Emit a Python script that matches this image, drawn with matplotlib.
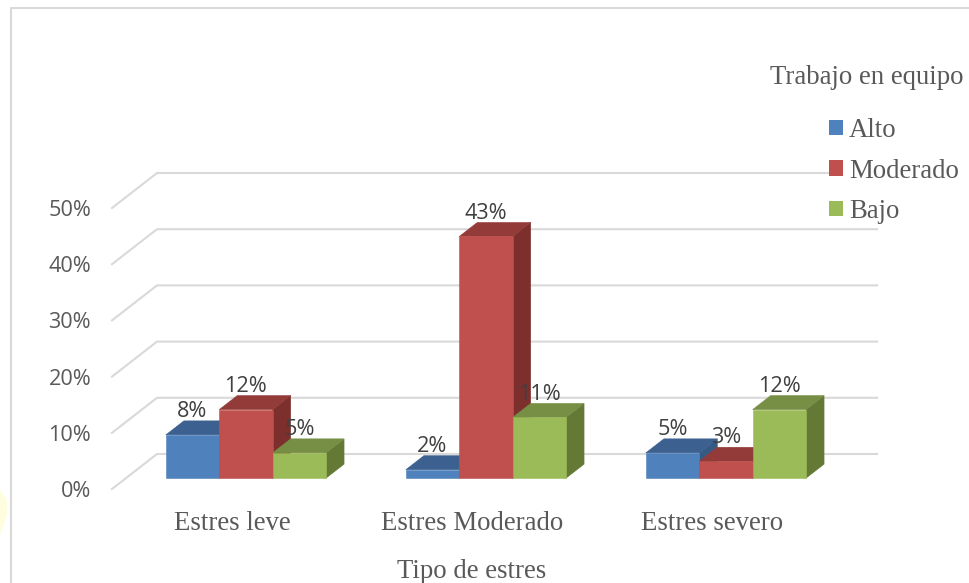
import numpy as np
import matplotlib
matplotlib.use('Agg')
import matplotlib.pyplot as plt
from matplotlib.lines import Line2D
from matplotlib.patches import Patch, Polygon

# datos
categorias = ['Estres leve', 'Estres Moderado', 'Estres severo']
series = ['Alto', 'Moderado', 'Bajo']
alto = [7.7, 1.5, 4.5]
moderado = [12.2, 43.0, 3.0]
bajo = [4.5, 10.8, 12.2]
etiquetas_alto = ['8%', '2%', '5%']
etiquetas_moderado = ['12%', '43%', '3%']
etiquetas_bajo = ['5%', '11%', '12%']
ticks_y = [0, 10, 20, 30, 40, 50]

W, H = 969, 583
color_frente = ['#4F81BD', '#C0504D', '#9BBB59']
color_arriba = ['#3C6190', '#923B39', '#778F44']
color_lado = ['#375A85', '#7C2F2D', '#647936']
gris = '#D9D9D9'
serif = 19.3
sans = 15.6

# proyeccion falsa 3D: desplazamiento del fondo en unidades de datos
prof_x = 45 / 240
prof_y = 35 / 5.62
d_frente = 0.31
d_atras = 0.71
ancho = 0.2225


def proy(x, y, d):
    return (x + d * prof_x, y + d * prof_y)


fig = plt.figure(figsize=(W / 100, H / 100), dpi=100)
ax = fig.add_axes([112 / W, 1 - 489 / H, 720 / W, 281 / H])
ax.set_xlim(0, 3)
ax.set_ylim(0, 50)
ax.patch.set_alpha(0)
for s in ax.spines.values():
    s.set_visible(False)

# marco del grafico y mancha amarilla del borde
fig.add_artist(Line2D([11 / W, 11 / W, 1], [0, 1 - 8 / H, 1 - 8 / H], color=gris, lw=1.5))
fig.add_artist(Polygon([[0, 1 - 535 / H], [7 / W, 1 - 515 / H], [7 / W, 1 - 500 / H], [0, 1 - 490 / H]],
                       closed=True, color='#FFFDE0', lw=0, transform=fig.transFigure))

# lineas de la pared
for v in ticks_y:
    ax.plot(*zip(proy(0, v, 0), proy(0, v, 1), proy(3, v, 1)), color=gris, lw=1.5,
            clip_on=False, zorder=1, solid_joinstyle='miter')

# barras
valores = [alto, moderado, bajo]
etiquetas = [etiquetas_alto, etiquetas_moderado, etiquetas_bajo]
for c in range(len(categorias)):
    x0 = c + 0.5 - 1.5 * ancho
    for i in range(3):
        v = valores[i][c]
        xa = x0 + i * ancho
        xb = xa + ancho
        frente = [proy(xa, 0, d_frente), proy(xb, 0, d_frente), proy(xb, v, d_frente), proy(xa, v, d_frente)]
        arriba = [proy(xa, v, d_frente), proy(xb, v, d_frente), proy(xb, v, d_atras), proy(xa, v, d_atras)]
        lado = [proy(xb, 0, d_frente), proy(xb, 0, d_atras), proy(xb, v, d_atras), proy(xb, v, d_frente)]
        z = 3 + i
        ax.add_patch(Polygon(lado, closed=True, fc=color_lado[i], ec=color_lado[i], lw=0.4, clip_on=False, zorder=z))
        ax.add_patch(Polygon(arriba, closed=True, fc=color_arriba[i], ec=color_arriba[i], lw=0.4, clip_on=False, zorder=z))
        ax.add_patch(Polygon(frente, closed=True, fc=color_frente[i], ec=color_frente[i], lw=0.4, clip_on=False, zorder=z))
        px, py = proy((xa + xb) / 2, v, d_frente)
        ax.annotate(etiquetas[i][c], (px, py), xytext=(0, 16.8), textcoords='offset points',
                    ha='center', va='center', fontsize=sans, family='Open Sans', color='#404040', zorder=10)

# ejes
ax.set_xticks([c + 0.5 for c in range(len(categorias))])
ax.set_xticklabels(categorias, family='Liberation Serif', fontsize=serif, color='#595959')
ax.set_yticks(ticks_y)
ax.set_yticklabels([f'{v}%' for v in ticks_y], family='Open Sans', fontsize=sans, color='#595959')
ax.tick_params(axis='x', length=0, pad=15.5)
ax.tick_params(axis='y', length=0, pad=15)
ax.set_xlabel('Tipo de estres', family='Liberation Serif', fontsize=serif, color='#595959', labelpad=17)

# leyenda
fig.text(963 / W, 1 - 77 / H, 'Trabajo en equipo', family='Liberation Serif', fontsize=serif,
         color='#595959', ha='right', va='center')
manejadores = [Patch(fc=color_frente[i], ec='none') for i in range(3)]
ley = fig.legend(manejadores, series, loc='upper left', bbox_to_anchor=(829 / W, 1 - 118 / H),
                 frameon=True, facecolor='white', edgecolor='none', framealpha=1, borderpad=0,
                 borderaxespad=0, handlelength=0.52, handleheight=0.52, handletextpad=0.22,
                 labelspacing=0.58, prop={'family': 'Liberation Serif', 'size': serif})
for t in ley.get_texts():
    t.set_color('#595959')

fig.savefig('out.png', dpi=100)
